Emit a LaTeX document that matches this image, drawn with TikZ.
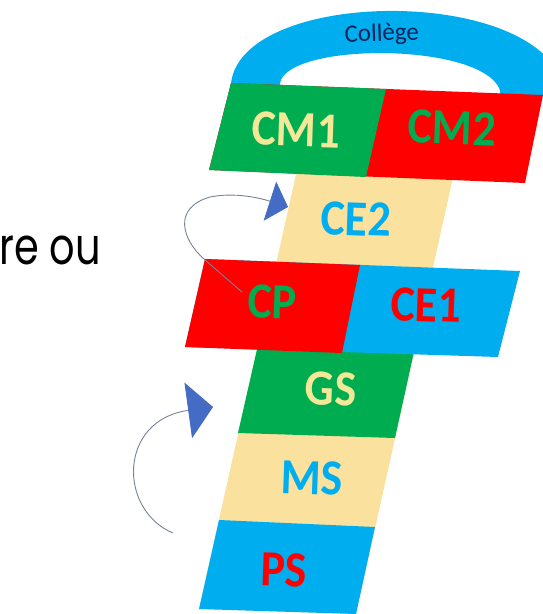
\documentclass[tikz,border=0pt]{standalone}
\usepackage{fontspec}
\setmainfont{Carlito}
\newfontfamily\geofont{Poppins}
\usetikzlibrary{arrows.meta}
\definecolor{hblue}{RGB}{0,174,239}
\definecolor{hgreen}{RGB}{0,172,80}
\definecolor{hred}{RGB}{255,0,0}
\definecolor{htan}{RGB}{250,226,158}
\definecolor{hpale}{RGB}{243,231,152}
\definecolor{hnavy}{RGB}{10,35,90}
\definecolor{arrowblue}{RGB}{68,108,196}
\definecolor{linegrey}{RGB}{120,130,150}
\begin{document}
\begin{tikzpicture}[x=1pt,y=-1pt,
  lbl/.style={font=\fontsize{46}{46}\selectfont\bfseries, inner sep=0pt, rotate=-2},
  jump/.style={draw=linegrey, line width=0.9pt, -{Triangle[length=19pt,width=41pt,color=arrowblue]}},
  jumpbig/.style={draw=linegrey, line width=0.9pt, -{Triangle[length=25pt,width=56pt,color=arrowblue]}}]
\useasboundingbox (0,0) rectangle (543,614);
\clip (0,0) rectangle (543,614);
% arch
\fill[hblue] (231,90) -- (231,83) .. controls (243,-15) and (555,-15) .. (565,95) -- (500,95) -- (500,90) .. controls (482,42) and (288,42) .. (280,83) -- (280,90) -- cycle;
\node[font=\fontsize{25}{25}\selectfont, text=hnavy, anchor=base, inner sep=0pt, rotate=2] (college) at (382,41) {Collège};
% column
\fill[htan] (297,170) -- (454,173) -- (356,614) -- (199,609) -- cycle;
\fill[hgreen] (258,345) -- (415.5,345) -- (395,438) -- (238,433) -- cycle;
\fill[hblue] (219,520) -- (375,527) -- (356,614) -- (199,609) -- cycle;
% CM row
\fill[hred] (231,83) -- (543,95) -- (525,183) -- (209,170) -- cycle;
\fill[hgreen] (231,83) -- (386,89) -- (366,177) -- (209,170) -- cycle;
% CP row
\fill[hblue] (205,259) -- (520,271) -- (498,357) -- (185,347) -- cycle;
\fill[hred] (205,259) -- (360,265) -- (342,353) -- (185,347) -- cycle;
% labels
\node[lbl, text=hpale] (cm1) at (296,130) {\scalebox{1}[1.1]{CM1}};
\node[lbl, text=hgreen] (cm2) at (452,128) {\scalebox{1}[1.1]{CM2}};
\node[lbl, text=hblue] (ce2) at (356,219) {\scalebox{1}[1.1]{CE2}};
\node[lbl, text=hgreen] (cp) at (272,302) {\scalebox{1}[1.1]{CP}};
\node[lbl, text=hred] (ce1) at (426,305) {\scalebox{1}[1.1]{CE1}};
\node[lbl, text=hpale] (gs) at (331,389) {\scalebox{1}[1.1]{GS}};
\node[lbl, text=hblue] (ms) at (312,478) {\scalebox{1}[1.1]{MS}};
\node[lbl, text=hred] (ps) at (284,570) {\scalebox{1}[1.1]{PS}};
% side text
\node[font=\geofont\fontsize{42}{42}\selectfont, anchor=base west, inner sep=0pt] (reou) at (-1,264) {\scalebox{0.95}[1.22]{re ou}};
% arrows
\coordinate (a1s) at (242,292);
\coordinate (a1k) at (205,260);
\coordinate (a1e) at (288,207);
\draw[jump] (a1s) -- (a1k) .. controls (182,240) and (172,208) .. (210,197) .. controls (235,192) and (260,198) .. (a1e);
\coordinate (a2s) at (173,533);
\coordinate (a2e) at (213,407);
\draw[jumpbig] (a2s) .. controls (118,510) and (118,420) .. (a2e);
\end{tikzpicture}
\end{document}
